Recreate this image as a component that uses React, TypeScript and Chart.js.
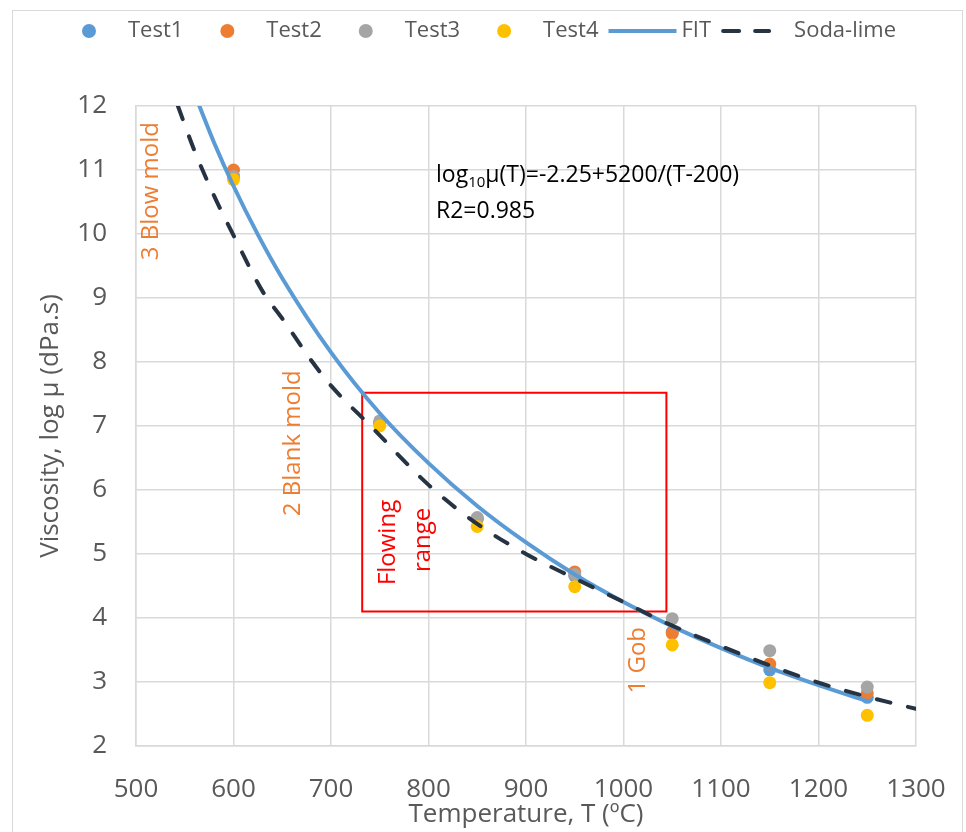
import React, { useEffect, useRef } from "react";
import { Chart, registerables } from "chart.js";

Chart.register(...registerables);

// ---------- data ----------
const testTemps = [600, 750, 850, 950, 1050, 1150, 1250];
const test1 = [10.9, 7.05, 5.55, 4.66, 3.78, 3.19, 2.76];
const test2 = [11.0, 7.05, 5.55, 4.72, 3.76, 3.28, 2.83];
const test3 = [10.9, 7.08, 5.57, 4.68, 3.99, 3.49, 2.92];
const test4 = [10.85, 7.0, 5.43, 4.49, 3.58, 2.99, 2.48];

const fitTemps = [565, 580, 600, 625, 650, 700, 750, 800, 850, 900, 950, 1000, 1050, 1100, 1150, 1200, 1250];
const fitValues = [12.0, 11.43, 10.75, 9.99, 9.31, 8.15, 7.2, 6.42, 5.75, 5.18, 4.68, 4.25, 3.87, 3.53, 3.22, 2.95, 2.7];

const sodaTemps = [543, 560, 580, 600, 630, 650, 680, 700, 742, 800, 850, 900, 950, 1000, 1050, 1100, 1150, 1200, 1250, 1300];
const sodaValues = [12.0, 11.3, 10.6, 9.98, 9.1, 8.68, 8.02, 7.63, 6.98, 6.08, 5.47, 5.0, 4.62, 4.25, 3.88, 3.56, 3.26, 2.99, 2.77, 2.58];

const flowRangeTemps = [732, 1044];
const flowRangeLogs = [4.1, 7.52];

const xMin = 500, xMax = 1300, xStep = 100;
const yMin = 2, yMax = 12, yStep = 1;

const seriesLabels = ["Test1", "Test2", "Test3", "Test4", "FIT", "Soda-lime"];
const colors = {
  test1: "#5B9BD5",
  test2: "#ED7D31",
  test3: "#A5A5A5",
  test4: "#FFC000",
  fit: "#5B9BD5",
  soda: "#253343",
  red: "#FF0000",
  orangeText: "#ED7D31",
  axisText: "#595959",
  grid: "#D9D9D9",
};

const FONT = '"Open Sans", "Noto Sans", sans-serif';

const toPoints = (xs: number[], ys: number[]) => xs.map((x, i) => ({ x, y: ys[i] }));

// rotated annotations (data-coordinate anchors, baseline position)
const rotatedNotes = [
  { text: "3 Blow mold", t: 522.6, v: 10.67, color: colors.orangeText },
  { text: "2 Blank mold", t: 668.2, v: 6.73, color: colors.orangeText },
  { text: "Flowing", t: 765.6, v: 5.18, color: colors.red },
  { text: "range", t: 801.5, v: 5.22, color: colors.red },
  { text: "1 Gob", t: 1022, v: 3.34, color: colors.orangeText },
];

const notesPlugin = {
  id: "notes",
  afterDatasetsDraw(chart: any) {
    const { ctx, scales } = chart;
    const xs = scales.x, ys = scales.y;
    ctx.save();
    ctx.font = `24px ${FONT}`;
    ctx.textAlign = "center";
    ctx.textBaseline = "alphabetic";
    for (const n of rotatedNotes) {
      const px = xs.getPixelForValue(n.t);
      const py = ys.getPixelForValue(n.v);
      ctx.save();
      ctx.translate(px, py);
      ctx.rotate(-Math.PI / 2);
      ctx.fillStyle = n.color;
      ctx.fillText(n.text, 0, 0);
      ctx.restore();
    }
    // equation
    const ex = xs.getPixelForValue(807.7);
    const ey1 = ys.getPixelForValue(10.81);
    const ey2 = ys.getPixelForValue(10.25);
    ctx.textAlign = "left";
    ctx.fillStyle = "#000000";
    ctx.font = `23px ${FONT}`;
    let cx = ex;
    ctx.fillText("log", cx, ey1);
    cx += ctx.measureText("log").width;
    ctx.font = `15px ${FONT}`;
    ctx.fillText("10", cx, ey1 + 5);
    cx += ctx.measureText("10").width;
    ctx.font = `23px ${FONT}`;
    ctx.fillText("\u03BC(T)=-2.25+5200/(T-200)", cx, ey1);
    ctx.fillText("R2=0.985", ex, ey2);
    ctx.restore();
  },
};

const legendPlugin = {
  id: "customLegend",
  afterDraw(chart: any) {
    const { ctx } = chart;
    const items = chart.data.datasets.filter((d: any) => d.label);
    ctx.save();
    ctx.font = `22px ${FONT}`;
    const sample = 68, gapText = 5, gapItem = 10;
    const widths = items.map((d: any) => sample + gapText + ctx.measureText(d.label).width);
    const total = widths.reduce((a: number, b: number) => a + b, 0) + gapItem * (items.length - 1);
    let x = 475.5 - total / 2;
    const y = 31;
    items.forEach((d: any, i: number) => {
      if (!d.showLine) {
        ctx.beginPath();
        ctx.fillStyle = d.backgroundColor;
        ctx.arc(x + sample / 2, y, 7, 0, Math.PI * 2);
        ctx.fill();
      } else if (d.borderDash && d.borderDash.length) {
        ctx.beginPath();
        ctx.strokeStyle = d.borderColor;
        ctx.lineWidth = 4;
        ctx.lineCap = "round";
        ctx.setLineDash([16, 16]);
        ctx.moveTo(x + 2, y);
        ctx.lineTo(x + 48, y);
        ctx.stroke();
        ctx.setLineDash([]);
      } else {
        ctx.beginPath();
        ctx.strokeStyle = d.borderColor;
        ctx.lineWidth = 4;
        ctx.lineCap = "butt";
        ctx.moveTo(x, y);
        ctx.lineTo(x + sample, y);
        ctx.stroke();
      }
      ctx.fillStyle = colors.axisText;
      ctx.textAlign = "left";
      ctx.textBaseline = "middle";
      ctx.fillText(d.label, x + sample + gapText, y);
      x += widths[i] + gapItem;
    });
    ctx.restore();
  },
};

export default function App() {
  const canvasRef = useRef<HTMLCanvasElement | null>(null);

  useEffect(() => {
    document.body.style.margin = "0";
    document.body.style.overflow = "hidden";
    const canvas = canvasRef.current;
    if (!canvas) return;

    const pointDs = (label: string, ys: number[], color: string, order: number) => ({
      label,
      data: toPoints(testTemps, ys),
      showLine: false,
      pointRadius: 6.5,
      pointHoverRadius: 6.5,
      pointBackgroundColor: color,
      pointBorderWidth: 0,
      backgroundColor: color,
      borderColor: color,
      order,
    });

    const chart = new Chart(canvas, {
      type: "scatter",
      data: {
        datasets: [
          pointDs(seriesLabels[0], test1, colors.test1, 6),
          pointDs(seriesLabels[1], test2, colors.test2, 5),
          pointDs(seriesLabels[2], test3, colors.test3, 4),
          pointDs(seriesLabels[3], test4, colors.test4, 3),
          {
            label: seriesLabels[4],
            data: toPoints(fitTemps, fitValues),
            showLine: true,
            borderColor: colors.fit,
            backgroundColor: colors.fit,
            borderWidth: 4,
            pointRadius: 0,
            cubicInterpolationMode: "monotone",
            borderCapStyle: "round",
            order: 2,
          },
          {
            label: seriesLabels[5],
            data: toPoints(sodaTemps, sodaValues),
            showLine: true,
            borderColor: colors.soda,
            backgroundColor: colors.soda,
            borderWidth: 4,
            borderDash: [14, 18],
            borderCapStyle: "round",
            pointRadius: 0,
            cubicInterpolationMode: "monotone",
            order: 1,
          },
          {
            label: "",
            data: [
              { x: flowRangeTemps[0], y: flowRangeLogs[1] },
              { x: flowRangeTemps[1], y: flowRangeLogs[1] },
              { x: flowRangeTemps[1], y: flowRangeLogs[0] },
              { x: flowRangeTemps[0], y: flowRangeLogs[0] },
              { x: flowRangeTemps[0], y: flowRangeLogs[1] },
            ],
            showLine: true,
            borderColor: colors.red,
            backgroundColor: colors.red,
            borderWidth: 2,
            pointRadius: 0,
            tension: 0,
            order: 10,
          },
        ],
      } as any,
      options: {
        animation: false,
        responsive: false,
        maintainAspectRatio: false,
        events: [],
        layout: { padding: { left: 0, right: 50, top: 106, bottom: 0 } },
        plugins: {
          legend: { display: false },
          tooltip: { enabled: false },
        },
        scales: {
          x: {
            type: "linear",
            min: xMin,
            max: xMax,
            afterFit: (s: any) => {
              s.height = 86;
              s.paddingLeft = 0;
              s.paddingRight = 0;
            },
            ticks: {
              stepSize: xStep,
              font: { family: FONT, size: 26 },
              color: colors.axisText,
              padding: 28,
              maxRotation: 0,
              callback: (v: any) => String(v),
            },
            grid: { color: colors.grid, lineWidth: 1.5, drawTicks: false },
            border: { color: colors.grid, width: 1.5 },
            title: {
              display: true,
              text: "Temperature, T (\u00BAC)",
              font: { family: FONT, size: 26 },
              color: colors.axisText,
              padding: { top: 0, bottom: 2 },
            },
          },
          y: {
            type: "linear",
            min: yMin,
            max: yMax,
            afterFit: (s: any) => {
              s.width = 136;
              s.paddingTop = 0;
              s.paddingBottom = 0;
            },
            ticks: {
              stepSize: yStep,
              font: { family: FONT, size: 26 },
              color: colors.axisText,
              padding: 29,
              callback: (v: any) => String(v),
            },
            grid: { color: colors.grid, lineWidth: 1.5, drawTicks: false },
            border: { color: colors.grid, width: 1.5 },
            title: {
              display: true,
              text: "Viscosity, log \u03BC (dPa.s)",
              font: { family: FONT, size: 26 },
              color: colors.axisText,
              padding: { top: 35, bottom: 0 },
            },
          },
        },
      } as any,
      plugins: [notesPlugin, legendPlugin],
    });

    return () => chart.destroy();
  }, []);

  return (
    <div style={{ position: "absolute", left: 0, top: 0, width: 966, height: 832, background: "#ffffff" }}>
      <canvas ref={canvasRef} width={966} height={832} style={{ display: "block", width: 966, height: 832 }} />
      <div
        style={{
          position: "absolute",
          left: 12,
          top: 10,
          width: 951,
          height: 822,
          borderTop: "1.5px solid #D9D9D9",
          borderLeft: "1.5px solid #D9D9D9",
          borderRight: "1.5px solid #D9D9D9",
          boxSizing: "border-box",
          pointerEvents: "none",
        }}
      />
    </div>
  );
}
